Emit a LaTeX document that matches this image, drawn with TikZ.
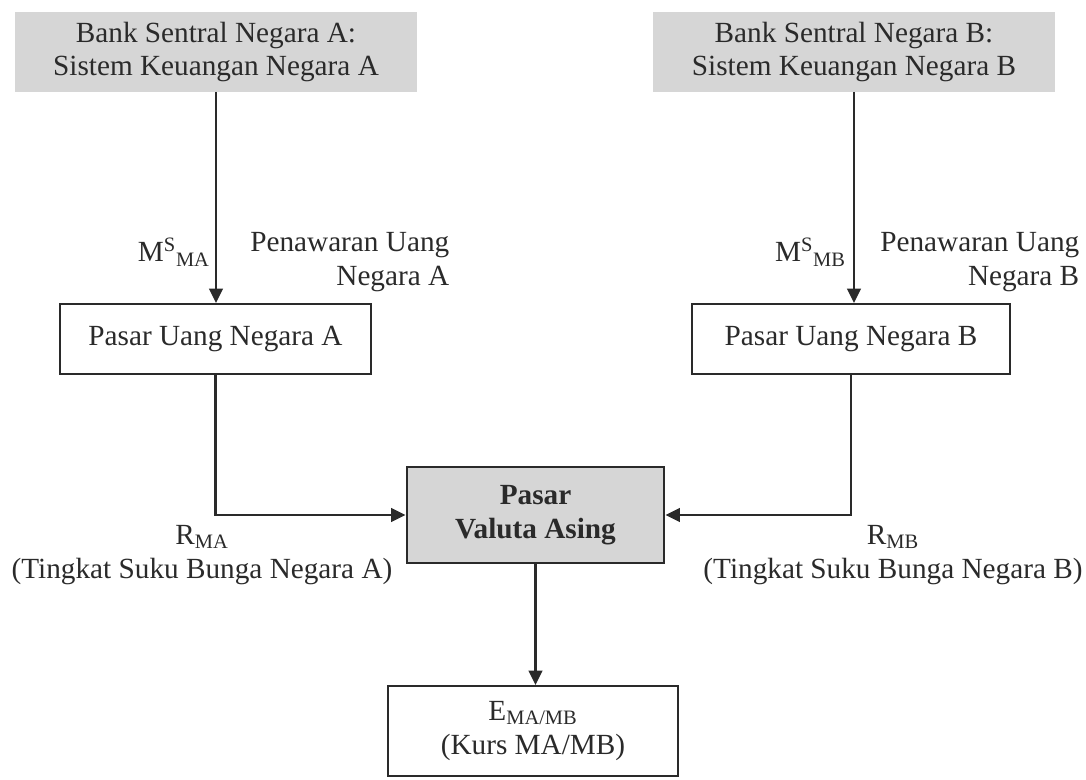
\documentclass[tikz,border=0pt]{standalone}
\usepackage{fontspec}
\setmainfont{Liberation Serif}
\usetikzlibrary{positioning,arrows.meta}
\definecolor{ink}{HTML}{2A2A2A}
\definecolor{shade}{HTML}{D6D6D6}

\begin{document}
\begin{tikzpicture}[x=0.025cm,y=-0.025cm,
    every node/.style={font=\fontsize{20.8}{24}\selectfont,text=ink,inner sep=0pt},
    bankbox/.style={fill=shade,minimum width=10.05cm,minimum height=1.975cm,align=center},
    marketbox/.style={draw=ink,line width=1.5pt,minimum height=1.75cm,align=center},
    arr/.style={draw=ink,line width=1.8pt,-{Triangle[length=0.36cm,width=0.34cm]}}]
  \useasboundingbox (0,0) rectangle (1086,780);

  % sumber uang
  \node[bankbox] (bankA) at (216,52) {Bank Sentral Negara A:\\Sistem Keuangan Negara A};
  \node[bankbox] (bankB) at (854,52) {Bank Sentral Negara B:\\Sistem Keuangan Negara B};

  % pasar uang
  \node[marketbox,minimum width=7.775cm] (pasarA) at (215.5,339) {Pasar Uang Negara A};
  \node[marketbox,minimum width=7.95cm] (pasarB) at (851,339) {Pasar Uang Negara B};

  % pasar valas dan kurs
  \node[draw=ink,line width=2pt,fill=shade,minimum width=6.425cm,minimum height=2.4cm,align=center,font=\fontsize{20.8}{24}\selectfont\bfseries] (valas) at (535.5,515) {Pasar\\Valuta Asing};
  \node[marketbox,minimum width=7.25cm,minimum height=2.25cm] (kurs) at (533,731) {E\textsubscript{MA/MB}\\(Kurs MA/MB)};

  % penghubung
  \draw[arr] (bankA.south) -- (bankA.south |- pasarA.north);
  \draw[arr] (bankB.south) -- (bankB.south |- pasarB.north);
  \draw[arr] (pasarA.south) |- (valas.west);
  \draw[arr] (pasarB.south) |- (valas.east);
  \draw[arr] (valas.south) -- (valas.south |- kurs.north);

  % keterangan
  \node[anchor=east] (msA) at (210,252) {M\textsuperscript{S}\textsubscript{MA}};
  \node[anchor=west,align=right] (penA) at (250,262) {Penawaran Uang\\Negara A};
  \node[anchor=east] (msB) at (846,252) {M\textsuperscript{S}\textsubscript{MB}};
  \node[anchor=west,align=right] (penB) at (880,262) {Penawaran Uang\\Negara B};
  \node[align=center] (rA) at (202,555) {R\textsubscript{MA}\\(Tingkat Suku Bunga Negara A)};
  \node[align=center] (rB) at (893,555) {R\textsubscript{MB}\\(Tingkat Suku Bunga Negara B)};
\end{tikzpicture}
\end{document}
